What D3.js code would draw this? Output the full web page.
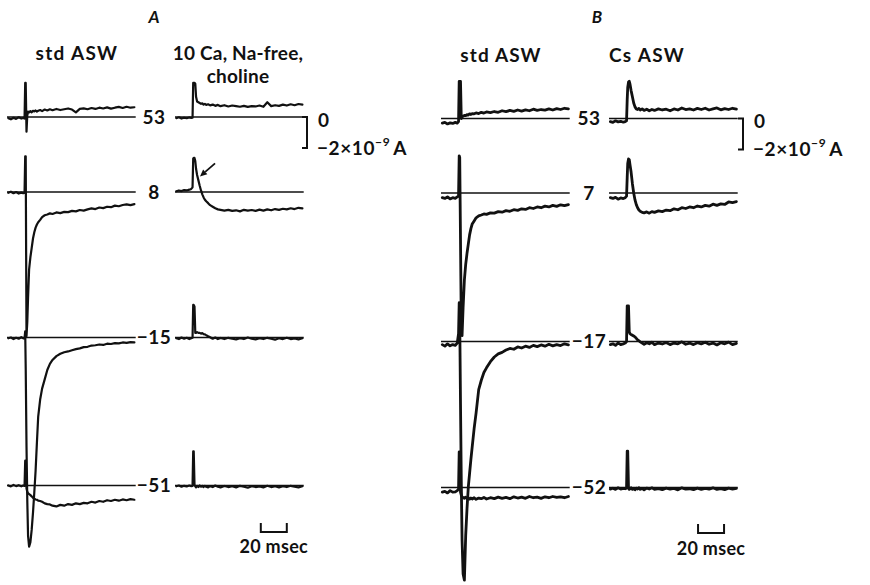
<!DOCTYPE html>
<html>
<head>
<meta charset="utf-8">
<script src="https://cdn.jsdelivr.net/npm/d3@7/dist/d3.min.js"></script>
<style>
  html, body { margin: 0; padding: 0; background: #fff; }
  svg { display: block; }
  text { font-family: Lato, "Open Sans", sans-serif; font-weight: 700; fill: #111; }
</style>
</head>
<body>
<svg id="fig" width="870" height="585"></svg>
<script>
// Sample times (ms) relative to the start of the voltage step
const timeMs = [-13,-11,-9,-7,-5,-3,-1.5,-0.5,0,0.4,1,1.6,2.2,3,4,5,6,7,8,9,10,11.5,13,15,17,19,21,24,27,30,33,36,39,42,45,48,51,54,57,60,63,66,69,72,75,78,81,84];

// Membrane currents (nA) — panel A, std ASW
const stdA_53  = [-0.08,-0.15,-0.05,-0.12,-0.02,-0.1,-0.06,-0.1, 2.2,2.2,-0.95,0.1,0.35, 0.3,0.38,0.3,0.4,0.36,0.42,0.35,0.4, 0.45,0.38,0.48,0.42,0.5,0.44, 0.52,0.45,0.5,0.55,0.48,0.3,0.52,0.56,0.5,0.58,0.52,0.6,0.55,0.62,0.54,0.6,0.65,0.58,0.66,0.6,0.63];
const stdA_8   = [-0.05,0.02,-0.08,0,-0.1,-0.04,-0.08,-0.05, 2.3,2.3,-9.3,-8.4,-6.8, -5.0,-4.2,-3.6,-3.0,-2.6,-2.3,-2.1,-1.95, -1.8,-1.62,-1.5,-1.45,-1.38,-1.42, -1.32,-1.36,-1.28,-1.3,-1.22,-1.25,-1.16,-1.2,-1.12,-1.06,-1.1,-1.0,-1.04,-0.95,-0.98,-0.88,-0.92,-0.84,-0.8,-0.85,-0.78];
const stdA_m15 = [-0.05,0,-0.1,-0.02,-0.08,0.02,-0.05,-0.05, 0.4,-2.0,-7.0,-10.5,-12.8, -13.5,-13.2,-12.4,-11.3,-10.0,-8.6,-6.8,-5.1, -4.0,-3.3,-2.7,-2.1,-1.7,-1.45, -1.2,-1.05,-0.95,-0.9,-0.82,-0.75,-0.7,-0.62,-0.6,-0.52,-0.5,-0.45,-0.48,-0.4,-0.42,-0.36,-0.38,-0.32,-0.35,-0.3,-0.32];
const stdA_m51 = [0,-0.06,0.04,-0.04,0.02,-0.05,0,-0.03, 1.6,1.6,-0.2,-0.4,-0.5, -0.55,-0.62,-0.7,-0.8,-0.85,-0.9,-0.92,-0.98, -1.0,-1.05,-1.15,-1.2,-1.22,-1.3, -1.35,-1.25,-1.3,-1.2,-1.25,-1.15,-1.2,-1.12,-1.15,-1.05,-1.1,-1.0,-1.05,-0.95,-1.0,-0.92,-0.98,-0.9,-0.95,-0.88,-0.92];

// Panel A, 10 Ca, Na-free, choline
const chol_53  = [-0.08,-0.02,-0.1,-0.05,-0.08,-0.03,-0.06,-0.05, 2.2,2.2,2.2,2.15,1.3, 1.0,0.95,0.9,0.85,0.88,0.8,0.84,0.78, 0.82,0.75,0.8,0.72,0.78,0.7, 0.76,0.68,0.74,0.7,0.66,0.72,0.65,0.7,0.68,0.74,0.66,0.95,0.7,0.76,0.72,0.8,0.74,0.82,0.76,0.84,0.8];
const chol_8   = [0.05,0.1,0.06,0.12,0.1,0.15,0.2,0.3, 2.15,2.2,2.2,2.0,1.5, 1.1,0.75,0.4,0.1,-0.15,-0.35,-0.5,-0.6, -0.72,-0.85,-0.95,-1.05,-1.12,-1.15, -1.2,-1.15,-1.22,-1.18,-1.25,-1.15,-1.2,-1.16,-1.22,-1.14,-1.2,-1.12,-1.18,-1.1,-1.15,-1.08,-1.12,-1.05,-1.1,-1.02,-1.06];
const chol_m15 = [-0.05,-0.1,0,-0.08,-0.02,-0.1,-0.05,-0.02, 2.1,2.1,2.0,0.3,0.3, 0.35,0.3,0.3,0.25,0.28,0.22,0.2,0.15, 0.08,0.02,-0.08,0,-0.1,-0.03, -0.1,-0.02,-0.08,-0.12,-0.04,-0.1,0,-0.08,-0.12,-0.04,-0.1,-0.02,-0.08,-0.14,-0.05,-0.1,-0.02,-0.1,-0.06,-0.12,-0.05];
const chol_m51 = [-0.05,0,-0.08,-0.02,-0.06,0,-0.04,-0.02, 2.2,2.2,0.05,-0.05,-0.12, -0.02,-0.1,0,-0.08,-0.03,-0.1,-0.02,-0.08, -0.12,-0.04,-0.1,0,-0.08,-0.12, -0.03,-0.1,-0.05,-0.12,-0.02,-0.08,-0.14,-0.04,-0.1,-0.06,-0.12,-0.02,-0.1,-0.05,-0.12,-0.04,-0.1,-0.02,-0.08,-0.12,-0.05];

// Panel B, std ASW
const stdB_53  = [-0.3,-0.25,-0.35,-0.28,-0.32,-0.25,-0.3,-0.2, 2.4,2.4,2.4,0.0,0.1, 0.15,0.2,0.18,0.25,0.22,0.3,0.26,0.32, 0.3,0.36,0.32,0.4,0.35,0.42, 0.38,0.45,0.4,0.5,0.44,0.52,0.46,0.55,0.48,0.56,0.5,0.6,0.52,0.58,0.54,0.62,0.55,0.64,0.58,0.66,0.62];
const stdB_7   = [-0.3,-0.35,-0.25,-0.38,-0.3,-0.34,-0.25,-0.2, 2.4,2.3,-3.0,-8.5,-9.2, -7.4,-5.6,-4.6,-3.9,-3.3,-2.7,-2.3,-2.0, -1.8,-1.6,-1.48,-1.42,-1.35,-1.38, -1.28,-1.3,-1.2,-1.24,-1.14,-1.18,-1.08,-1.12,-1.02,-1.06,-0.95,-1.0,-0.9,-0.95,-0.85,-0.9,-0.8,-0.86,-0.76,-0.82,-0.75];
const stdB_m17 = [-0.2,-0.3,-0.15,-0.28,-0.2,-0.25,-0.1,0.5, 2.5,1.5,-4.0,-9.0,-12.8, -15.0,-15.4,-12.5,-10.8,-9.4,-8.5,-7.6,-6.8, -5.6,-4.6,-3.1,-2.5,-2.0,-1.7, -1.3,-1.0,-0.8,-0.7,-0.55,-0.45,-0.5,-0.35,-0.42,-0.3,-0.38,-0.25,-0.33,-0.22,-0.3,-0.18,-0.28,-0.2,-0.26,-0.15,-0.22];
const stdB_m52 = [-0.3,-0.25,-0.35,-0.2,-0.3,-0.28,-0.2,-0.1, 2.3,2.3,-0.3,-0.5,-0.6, -0.65,-0.7,-0.62,-0.72,-0.66,-0.75,-0.68,-0.74, -0.66,-0.76,-0.68,-0.72,-0.64,-0.74, -0.66,-0.72,-0.62,-0.7,-0.64,-0.72,-0.6,-0.68,-0.62,-0.7,-0.58,-0.66,-0.62,-0.7,-0.6,-0.66,-0.58,-0.64,-0.6,-0.66,-0.58];

// Panel B, Cs ASW
const cs_53  = [-0.2,-0.25,-0.15,-0.22,-0.18,-0.24,-0.2,-0.15, 1.2,2.0,2.35,2.4,2.2, 1.8,1.4,1.0,0.75,0.62,0.58,0.65,0.55, 0.62,0.52,0.6,0.5,0.58,0.52, 0.62,0.55,0.6,0.5,0.62,0.55,0.68,0.58,0.62,0.55,0.65,0.58,0.66,0.55,0.62,0.68,0.56,0.64,0.58,0.66,0.6];
const cs_7   = [-0.3,-0.35,-0.28,-0.4,-0.32,-0.36,-0.3,-0.2, 1.0,1.9,2.2,2.15,1.8, 1.35,0.6,0.0,-0.45,-0.75,-0.95,-1.1,-1.18, -1.25,-1.28,-1.22,-1.3,-1.2,-1.25, -1.15,-1.2,-1.1,-1.14,-1.02,-1.08,-0.95,-1.0,-0.9,-0.95,-0.84,-0.9,-0.8,-0.85,-0.72,-0.8,-0.7,-0.74,-0.58,-0.62,-0.56];
const cs_m17 = [-0.2,-0.15,-0.25,-0.1,-0.2,-0.15,-0.1,0, 2.3,2.3,2.3,0.6,0.5, 0.45,0.4,0.35,0.3,0.2,0.1,0.05,-0.02, -0.1,-0.18,-0.08,-0.15,-0.05,-0.2, -0.1,-0.16,-0.06,-0.2,-0.1,-0.15,-0.02,-0.18,-0.1,-0.2,-0.08,-0.15,-0.05,-0.18,-0.1,-0.22,-0.08,-0.15,-0.04,-0.2,-0.12];
const cs_m52 = [-0.1,-0.05,-0.12,-0.02,-0.1,-0.06,-0.08,-0.05, 2.35,2.35,-0.05,-0.12,-0.08, -0.02,-0.12,-0.06,-0.14,-0.04,-0.1,-0.02,-0.12, -0.06,-0.15,-0.04,-0.1,-0.02,-0.12, -0.08,-0.14,-0.04,-0.1,-0.06,-0.15,-0.02,-0.1,-0.08,-0.14,-0.04,-0.12,-0.06,-0.1,-0.02,-0.12,-0.08,-0.14,-0.04,-0.1,-0.06];

// Step potentials (mV) labelling each row
const stepsA = ["53", "8", "\u221215", "\u221251"];
const stepsB = ["53", "7", "\u221217", "\u221252"];

// Solution headings
const headingsA = [["std ASW"], ["10 Ca, Na-free,", "choline"]];
const headingsB = [["std ASW"], ["Cs ASW"]];

// Calibration
const currentCal = [0, -2];     // nA
const timeCal = [0, 20];        // ms

// ---------------------------------------------------------------
const svg = d3.select("#fig");
const T_DOMAIN = [-14, 85];
const PX_PER_MS = 1.3;
const PX_PER_NA = 15.5;

const rowBaseA = [117, 192, 337.5, 485.5];
const rowBaseB = [118.5, 193, 341.5, 487.5];

const columns = [
  { x0: 7,   rows: rowBaseA, traces: [stdA_53, stdA_8, stdA_m15, stdA_m51], w: 2.2 },
  { x0: 175, rows: rowBaseA, traces: [chol_53, chol_8, chol_m15, chol_m51], w: 2.2 },
  { x0: 441, rows: rowBaseB, traces: [stdB_53, stdB_7, stdB_m17, stdB_m52], w: 2.8 },
  { x0: 609, rows: rowBaseB, traces: [cs_53, cs_7, cs_m17, cs_m52], w: 2.8 }
];

const xFor = c => d3.scaleLinear().domain(T_DOMAIN)
  .range([c.x0, c.x0 + (T_DOMAIN[1] - T_DOMAIN[0]) * PX_PER_MS]);
const yFor = base => d3.scaleLinear().domain([0, -1]).range([base, base + PX_PER_NA]);

columns.forEach(c => {
  c.x = xFor(c);
  c.y = c.rows.map(yFor);
});

const gLines = svg.append("g");
const gTraces = svg.append("g");

columns.forEach(c => {
  c.traces.forEach((vals, r) => {
    const y = c.y[r];
    // zero-current reference line
    gLines.append("line")
      .attr("x1", c.x(T_DOMAIN[0])).attr("x2", c.x(T_DOMAIN[1]))
      .attr("y1", y(0)).attr("y2", y(0))
      .attr("stroke", "#111").attr("stroke-width", 1.3);
    const line = d3.line()
      .x((d, i) => c.x(timeMs[i]))
      .y(d => y(d));
    gTraces.append("path")
      .datum(vals)
      .attr("d", line)
      .attr("fill", "none")
      .attr("stroke", "#111")
      .attr("stroke-width", c.w)
      .attr("stroke-linejoin", "round")
      .attr("stroke-linecap", "round");
  });
});

// Row labels (step potential)
function rowLabels(labels, cx, bases) {
  svg.append("g").selectAll("text").data(labels).join("text")
    .attr("x", cx).attr("y", (d, i) => bases[i])
    .attr("dy", "0.36em")
    .attr("text-anchor", "middle")
    .attr("font-size", 19)
    .attr("letter-spacing", 0.5)
    .text(d => d);
}
rowLabels(stepsA, 154, rowBaseA);
rowLabels(stepsB, 589, rowBaseB);

// Panel letters
svg.append("text").attr("x", 154).attr("y", 23).attr("text-anchor", "middle")
  .attr("font-size", 17).attr("font-style", "italic").text("A");
svg.append("text").attr("x", 597).attr("y", 23).attr("text-anchor", "middle")
  .attr("font-size", 17).attr("font-style", "italic").text("B");

// Column headings
function heading(lines, cx, y0, ls) {
  lines.forEach((s, i) => {
    svg.append("text").attr("x", cx).attr("y", y0 + i * 23)
      .attr("text-anchor", "middle").attr("font-size", 19)
      .attr("letter-spacing", ls).text(s);
  });
}
heading(headingsA[0], 77, 60, 1.3);
heading(headingsA[1], 238, 60, 0.2);
heading(headingsB[0], 501, 62, 1.1);
heading(headingsB[1], 647, 62, 1.3);

// Current calibration bracket
function currentBar(col, xb) {
  const y = col.y[0];
  const p = d3.path();
  p.moveTo(xb - 5, y(currentCal[0]));
  p.lineTo(xb, y(currentCal[0]));
  p.lineTo(xb, y(currentCal[1]));
  p.lineTo(xb - 5, y(currentCal[1]));
  svg.append("path").attr("d", p.toString()).attr("fill", "none")
    .attr("stroke", "#111").attr("stroke-width", 2);
  svg.append("text").attr("x", xb + 11).attr("y", y(currentCal[0]) + 3)
    .attr("dy", "0.36em").attr("font-size", 19).text("0");
  const t = svg.append("text").attr("x", xb + 10).attr("y", y(currentCal[1]))
    .attr("dy", "0.36em").attr("font-size", 19).attr("letter-spacing", 0.6);
  t.append("tspan").text("\u22122\u00d710");
  t.append("tspan").attr("font-size", 12).attr("dy", "-0.75em").text("\u22129");
  t.append("tspan").attr("dy", "0.48em").text("\u2009A");
}
currentBar(columns[1], 307);
currentBar(columns[3], 743);

// Time calibration bracket
function timeBar(col, tStart, yTop, labelY) {
  const x0 = col.x(tStart + timeCal[0]);
  const x1 = col.x(tStart + timeCal[1]);
  const p = d3.path();
  p.moveTo(x0, yTop); p.lineTo(x0, yTop + 9); p.lineTo(x1, yTop + 9); p.lineTo(x1, yTop);
  svg.append("path").attr("d", p.toString()).attr("fill", "none")
    .attr("stroke", "#111").attr("stroke-width", 2);
  svg.append("text").attr("x", (x0 + x1) / 2).attr("y", labelY)
    .attr("text-anchor", "middle").attr("font-size", 18).attr("letter-spacing", 0.3)
    .text(`${timeCal[1]} msec`);
}
timeBar(columns[1], 52, 523, 553);
timeBar(columns[3], 54.5, 524, 555);

// Arrow marking the outward hump in Na-free choline at +8 mV
(function arrow() {
  const c = columns[1], y = c.y[1];
  const x1 = c.x(16.8), y1 = y(1.85);
  const x2 = c.x(5.2), y2 = y(1.0);
  const ang = Math.atan2(y2 - y1, x2 - x1);
  const L = 7, W = 3.2;
  const bx = x2 - L * Math.cos(ang), by = y2 - L * Math.sin(ang);
  svg.append("line").attr("x1", x1).attr("y1", y1).attr("x2", bx).attr("y2", by)
    .attr("stroke", "#111").attr("stroke-width", 1.8);
  const nx = -Math.sin(ang), ny = Math.cos(ang);
  svg.append("path")
    .attr("d", `M${x2},${y2}L${bx + nx * W},${by + ny * W}L${bx - nx * W},${by - ny * W}Z`)
    .attr("fill", "#111");
})();
</script>
</body>
</html>
